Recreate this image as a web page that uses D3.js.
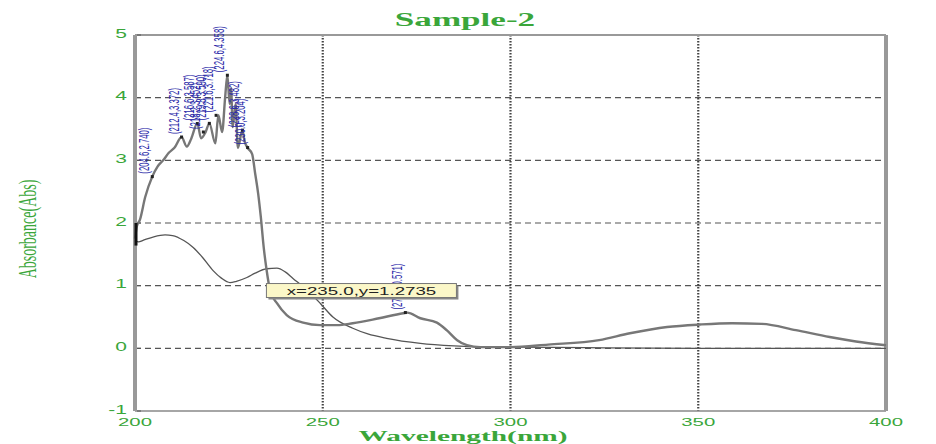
<!DOCTYPE html>
<html>
<head>
<meta charset="utf-8">
<script src="https://cdn.jsdelivr.net/npm/d3@7/dist/d3.min.js"></script>
<style>
  html, body { margin: 0; padding: 0; background: #fff; }
  svg { display: block; }
</style>
</head>
<body>
<svg id="chart" width="936" height="444"></svg>
<script>
// Spectrum traces: wavelength (nm) and absorbance (Abs)
const traceAWavelength = [200, 200.5, 201.3, 202.7, 204.6, 206, 207.5, 209, 210.5, 212.4, 213.8, 215.0, 216.6, 217.6, 218.8, 219.8, 221.4, 222.2, 223.2, 224.0, 224.6, 225.2, 225.6, 226.0, 226.8, 227.4, 228.6, 229.2, 230.0, 231.2, 232.0, 232.8, 233.5, 234.3, 235.0, 236.0, 237.8, 240.4, 244.8, 249.3, 253.8, 258, 265, 271.4, 272.5, 276, 280.4, 283, 285.8, 288.4, 292, 300, 310, 323.6, 331.8, 341.7, 350.5, 359, 367, 376, 385, 392, 400];
const traceAAbs = [1.75, 1.95, 2.05, 2.41, 2.74, 2.9, 3.0, 3.12, 3.2, 3.37, 3.22, 3.35, 3.59, 3.35, 3.45, 3.59, 3.27, 3.72, 3.45, 4.0, 4.36, 3.9, 4.15, 3.53, 3.9, 3.2, 3.48, 3.3, 3.2, 3.1, 2.79, 2.47, 2.1, 1.6, 1.27, 0.92, 0.72, 0.53, 0.41, 0.37, 0.37, 0.40, 0.48, 0.56, 0.57, 0.48, 0.41, 0.29, 0.13, 0.05, 0.02, 0.02, 0.06, 0.13, 0.24, 0.34, 0.38, 0.40, 0.39, 0.29, 0.18, 0.11, 0.05];

const traceBWavelength = [200, 201, 202, 205, 208, 210, 213, 215.5, 218, 220.8, 223, 225.3, 227, 229.8, 232, 235.1, 237.8, 240, 242, 245.8, 249.3, 252.7, 258, 262, 267, 276, 285, 295, 300, 320, 350, 380, 400];
const traceBAbs = [1.72, 1.70, 1.72, 1.78, 1.81, 1.80, 1.72, 1.61, 1.45, 1.24, 1.12, 1.05, 1.07, 1.13, 1.20, 1.27, 1.28, 1.22, 1.12, 0.93, 0.72, 0.50, 0.32, 0.23, 0.16, 0.08, 0.04, 0.02, 0.02, 0.01, 0.0, 0.0, 0.0];

// Picked peaks on trace A
const peakWavelength = [204.6, 212.4, 216.6, 218.2, 219.8, 221.6, 224.6, 228.6, 230.0, 272.0];
const peakAbs = [2.740, 3.372, 3.587, 3.452, 3.590, 3.718, 4.358, 3.482, 3.204, 0.571];

// Cursor readout
const cursorWavelength = 235.0;
const cursorAbs = 1.2735;

// Axis ticks
const xTicks = [200, 250, 300, 350, 400];
const yTicks = [-1, 0, 1, 2, 3, 4, 5];

const svg = d3.select("#chart");
const green = "#3aa63a";
const stretch = 1.75;

const x = d3.scaleLinear().domain([200, 400]).range([135, 886]);
const y = d3.scaleLinear().domain([-1, 5]).range([411, 35]);

// Grid: dashed horizontals, dotted verticals
svg.append("g").selectAll("line")
  .data(yTicks.filter(v => v > -1 && v < 5))
  .join("line")
  .attr("x1", x(200)).attr("x2", x(400))
  .attr("y1", d => y(d)).attr("y2", d => y(d))
  .attr("stroke", "#555").attr("stroke-width", 1.2)
  .attr("stroke-dasharray", "6,4");

svg.append("g").selectAll("line")
  .data(xTicks.filter(v => v > 200 && v < 400))
  .join("line")
  .attr("x1", d => x(d)).attr("x2", d => x(d))
  .attr("y1", y(5)).attr("y2", y(-1))
  .attr("stroke", "#444").attr("stroke-width", 2.2)
  .attr("stroke-dasharray", "1.5,1.5");

// Frame
svg.append("line").attr("x1", x(200)).attr("x2", x(400)).attr("y1", y(5)).attr("y2", y(5))
  .attr("stroke", "#999").attr("stroke-width", 2);
svg.append("line").attr("x1", x(200)).attr("x2", x(400)).attr("y1", y(-1)).attr("y2", y(-1))
  .attr("stroke", "#888").attr("stroke-width", 1.5);
svg.append("line").attr("x1", x(200)).attr("x2", x(200)).attr("y1", y(5)).attr("y2", y(-1))
  .attr("stroke", "#999").attr("stroke-width", 4);
svg.append("line").attr("x1", x(400)).attr("x2", x(400)).attr("y1", y(5)).attr("y2", y(-1))
  .attr("stroke", "#999").attr("stroke-width", 4);

// Tick marks
svg.append("g").selectAll("line").data(yTicks).join("line")
  .attr("x1", x(200) + 2).attr("x2", x(200) + 6)
  .attr("y1", d => y(d)).attr("y2", d => y(d))
  .attr("stroke", "#555").attr("stroke-width", 1);

// Tick labels (horizontally widened glyphs)
svg.append("g").selectAll("text").data(xTicks).join("text")
  .attr("transform", d => `translate(${x(d)},${y(-1) + 15}) scale(1.85,1)`)
  .attr("text-anchor", "middle")
  .attr("font-family", "Liberation Sans, Arial, sans-serif")
  .attr("font-size", 11)
  .attr("fill", green)
  .text(d => d);

svg.append("g").selectAll("text").data(yTicks).join("text")
  .attr("transform", d => `translate(${x(200) - 8},${y(d) + 2.5}) scale(${stretch},1)`)
  .attr("text-anchor", "end")
  .attr("font-family", "Liberation Sans, Arial, sans-serif")
  .attr("font-size", 12)
  .attr("fill", green)
  .text(d => d);

// Titles
svg.append("text")
  .attr("transform", `translate(465,26) scale(1.95,1)`)
  .attr("text-anchor", "middle")
  .attr("font-family", "Liberation Serif, Times New Roman, serif")
  .attr("font-weight", "bold")
  .attr("font-size", 18)
  .attr("fill", green)
  .text("Sample-2");

svg.append("text")
  .attr("transform", `translate(463,441) scale(2.1,1)`)
  .attr("text-anchor", "middle")
  .attr("font-family", "Liberation Serif, Times New Roman, serif")
  .attr("font-weight", "bold")
  .attr("font-size", 14)
  .attr("fill", green)
  .text("Wavelength(nm)");

svg.append("text")
  .attr("transform", `translate(36,229) scale(1.8,1) rotate(-90)`)
  .attr("text-anchor", "middle")
  .attr("font-family", "Liberation Serif, Times New Roman, serif")
  .attr("font-size", 14)
  .attr("fill", green)
  .text("Absorbance(Abs)");

// Traces
const line = d3.line().x(d => x(d[0])).y(d => y(d[1])).curve(d3.curveMonotoneX);
const traceB = traceBWavelength.map((w, i) => [w, traceBAbs[i]]);
const traceA = traceAWavelength.map((w, i) => [w, traceAAbs[i]]);

svg.append("path").datum(traceB).attr("d", line)
  .attr("fill", "none").attr("stroke", "#555").attr("stroke-width", 1.3);

svg.append("path").datum(traceA).attr("d", line)
  .attr("fill", "none").attr("stroke", "#777").attr("stroke-width", 2.4)
  .attr("stroke-linejoin", "round");

// Start marker
svg.append("line")
  .attr("x1", x(200) + 1).attr("x2", x(200) + 1)
  .attr("y1", y(1.64)).attr("y2", y(2.0))
  .attr("stroke", "#111").attr("stroke-width", 3);

// Peak markers and labels
const peaks = peakWavelength.map((w, i) => [w, peakAbs[i]]);
svg.append("g").selectAll("rect").data(peaks).join("rect")
  .attr("x", d => x(d[0]) - 1.5).attr("y", d => y(d[1]) - 1.5)
  .attr("width", 3).attr("height", 3)
  .attr("fill", "#222");

svg.append("g").selectAll("text").data(peaks).join("text")
  .attr("transform", d => `translate(${x(d[0]) - 3},${y(d[1]) - 3}) scale(1.8,1) rotate(-90)`)
  .attr("font-family", "Liberation Sans Narrow, Liberation Sans, Arial, sans-serif")
  .attr("font-size", 8.5)
  .attr("textLength", 46)
  .attr("lengthAdjust", "spacingAndGlyphs")
  .attr("fill", "#2828a8")
  .text(d => `(${d[0].toFixed(1)},${d[1].toFixed(3)})`);

// Cursor readout box
const cx = x(cursorWavelength), cy = y(cursorAbs);
const box = svg.append("g").attr("transform", `translate(${cx},${cy + 15})`);
box.append("rect").attr("x", 2).attr("y", 2).attr("width", 190).attr("height", 14).attr("fill", "#888");
box.append("rect").attr("x", 0).attr("y", 0).attr("width", 190).attr("height", 14)
  .attr("fill", "#fbf7c8").attr("stroke", "#777").attr("stroke-width", 1);
box.append("text")
  .attr("transform", `translate(95,11) scale(1.7,1)`)
  .attr("text-anchor", "middle")
  .attr("font-family", "Liberation Sans, Arial, sans-serif")
  .attr("font-size", 11)
  .attr("fill", "#222")
  .text(`x=${cursorWavelength.toFixed(1)},y=${cursorAbs.toFixed(4)}`);
</script>
</body>
</html>
